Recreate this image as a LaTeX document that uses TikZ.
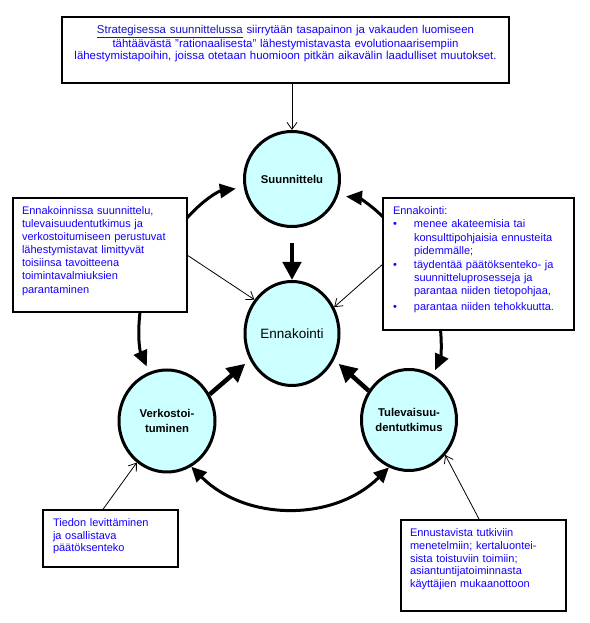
\documentclass[tikz,border=0pt]{standalone}
\usepackage{fontspec}
\setmainfont{Liberation Sans}
\usetikzlibrary{arrows.meta,shapes.geometric}
\definecolor{circfill}{RGB}{204,255,255}
\definecolor{txtblue}{RGB}{20,0,255}
\definecolor{linkblue}{RGB}{20,20,190}
\newcommand{\ennbullet}{\makebox[21pt][l]{\textbullet}}

\begin{document}
\begin{tikzpicture}[x=1pt,y=1pt,
    phase/.style={ellipse,draw,line width=3pt,fill=circfill,inner sep=0pt,
      align=center,font=\fontsize{11.3}{14.5}\selectfont\bfseries},
    infobox/.style={draw,line width=1.2pt,fill=white,anchor=north west,
      inner ysep=0pt,outer sep=0pt,align=left,text=txtblue,text height=16.5pt,
      font=\fontsize{11}{13.1}\selectfont},
    bigarrow/.style={line width=4.5pt,-{Triangle[length=18pt,width=18pt]}},
    curvearrow/.style={line width=3pt,-{Triangle[length=16pt,width=14pt]}},
    thinarrow/.style={line width=0.8pt,-{Straight Barb[length=7pt,width=10pt]}}]
    \useasboundingbox (0,0) rectangle (589,623);
    % the four phases
    \node[phase,minimum width=95pt,minimum height=95pt] (suun) at (292,444) {Suunnittelu};
    \node[phase,minimum width=94pt,minimum height=104pt,
      font=\fontsize{13.5}{16}\selectfont] (enna) at (292,289.5) {Ennakointi};
    \node[phase,minimum width=96pt,minimum height=102pt] (verk) at (167,202) {Verkostoi-\\tuminen};
    \node[phase,minimum width=95pt,minimum height=101pt] (tulev) at (409,203) {Tulevaisuu-\\dentutkimus};
    % text boxes
    \node[infobox,line width=1.8pt,align=center,text width=437pt,inner xsep=5pt,
      text depth=49.5pt,font=\fontsize{11.4}{12.6}\selectfont] (strat) at (62,606)
      {\textcolor{linkblue}{\underline{Strategisessa suunnittelussa}} siirrytään tasapainon ja vakauden luomiseen\\
       tähtäävästä "rationaalisesta" lähestymistavasta evolutionaarisempiin\\
       lähestymistapoihin, joissa otetaan huomioon pitkän aikavälin laadulliset muutokset.};
    \node[infobox,text width=156pt,inner xsep=9pt,text depth=97.5pt] (limit) at (13,425)
      {Ennakoinnissa suunnittelu,\\ tulevaisuudentutkimus ja\\ verkostoitumiseen perustuvat\\
       lähestymistavat limittyvät\\ toisiinsa tavoitteena\\ toimintavalmiuksien\\ parantaminen};
    \node[infobox,text width=171pt,inner xsep=10pt,text depth=115.5pt,
      font=\fontsize{11}{13.4}\selectfont] (ennbox) at (383,425)
      {Ennakointi:\\
       \ennbullet menee akateemisia tai\\
       \hspace*{21pt}konsulttipohjaisia ennusteita\\
       \hspace*{21pt}pidemmälle;\\
       \ennbullet täydentää päätöksenteko- ja\\
       \hspace*{21pt}suunnitteluprosesseja ja\\
       \hspace*{21pt}parantaa niiden tietopohjaa,\\[2.5pt]
       \ennbullet parantaa niiden tehokkuutta.};
    \node[infobox,text width=115pt,inner xsep=10pt,text depth=40.5pt,
      font=\fontsize{11}{12.6}\selectfont] (tiedon) at (43,113)
      {Tiedon levittäminen\\ ja osallistava\\ päätöksenteko};
    \node[infobox,text width=147pt,inner xsep=9pt,text depth=74.5pt,
      font=\fontsize{11}{12.8}\selectfont] (ennustus) at (401,103)
      {Ennustavista tutkiviin\\ menetelmiin; kertaluontei-\\ sista toistuviin toimiin;\\
       asiantuntijatoiminnasta\\ käyttäjien mukaanottoon};
    % connectors
    \draw[thinarrow] (suun.north |- strat.south) -- (suun.north);
    \draw[bigarrow,shorten <=15pt] (suun.south) -- (enna.north);
    \draw[bigarrow,shorten >=6pt] (verk.32) -- (enna.212);
    \draw[bigarrow,shorten >=6pt] (tulev.144) -- (enna.328);
    \draw[curvearrow,shorten >=8pt] ([yshift=-20pt]limit.north east) to[bend left=20] (suun.190);
    \draw[curvearrow,shorten >=8pt] ([yshift=-19pt]ennbox.north west) to[bend right=20] (suun.340);
    \draw[curvearrow,shorten >=6pt] ([xshift=40pt]limit.south) to[bend right=15] (verk.110);
    \draw[curvearrow,shorten >=5pt] ([xshift=-38pt]ennbox.south) to[bend left=15] (tulev.62);
    \draw[curvearrow,{Triangle[length=15pt,width=14pt]}-{Triangle[length=15pt,width=14pt]}]
      (verk.298) to[bend right=45] (tulev.247);
    \draw[thinarrow] (limit.east) -- (enna.138);
    \draw[thinarrow] (ennbox.west) -- (enna.32);
    \draw[thinarrow] ([xshift=-8pt]tiedon.north) -- (verk.234);
    \draw[thinarrow] ([xshift=-4pt]ennustus.north) -- (tulev.316);
\end{tikzpicture}
\end{document}
